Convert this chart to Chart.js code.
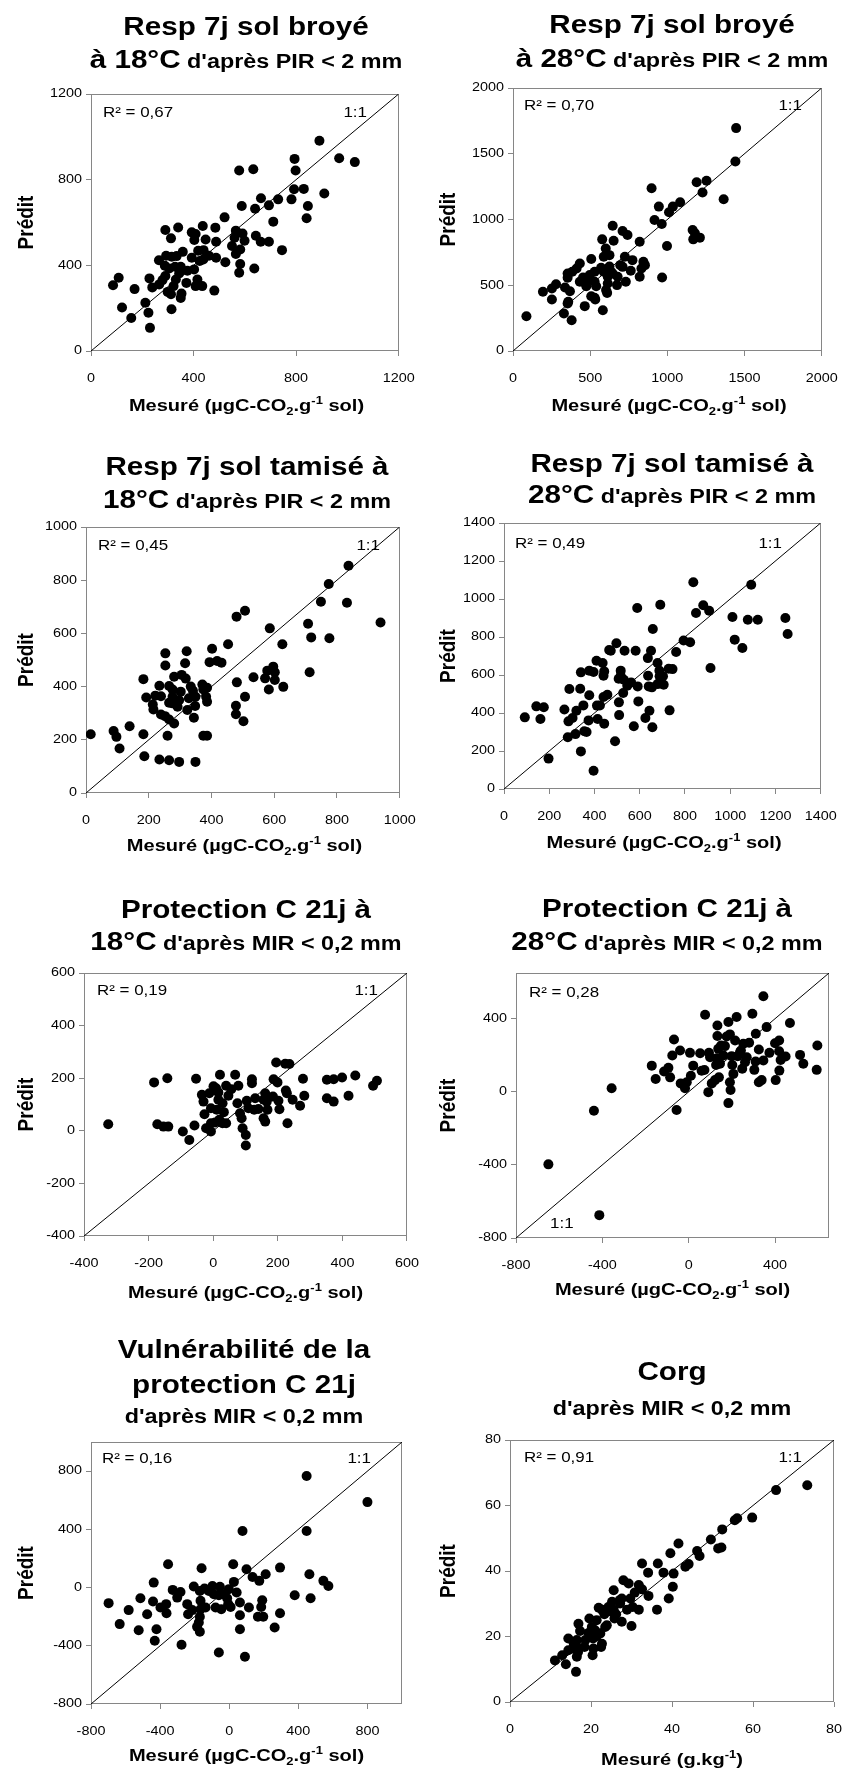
<!DOCTYPE html>
<html><head><meta charset="utf-8">
<script src="https://cdn.jsdelivr.net/npm/chart.js@4.4.1/dist/chart.umd.min.js"></script>
<style>
html,body{margin:0;padding:0;background:#fff;overflow:hidden;width:844px;height:1769px;}
#wrap{position:relative;width:844px;height:1769px;}
#wrap canvas{position:absolute;}
#txt{position:absolute;left:0;top:0;pointer-events:none;}
#txt text{font-family:"Liberation Sans",Arial,sans-serif;fill:#000;}
</style></head><body><div id="wrap"></div>
<script>
// ---------------- DATA ----------------
const p1Measured  = [891,794,968,1029,798,578,633,792,830,910,782,730,846,841,663,694,588,640,711,521,436,485,290,340,393,408,312,447,403,488,565,591,599,560,550,643,662,694,745,582,565,582,578,637,524,488,460,439,418,393,358,334,315,293,265,288,305,328,350,376,402,424,438,415,434,408,372,344,331,322,290,279,266,299,312,353,350,228,239,212,224,230,157,121,170,108,86,314,481];
const p1Predicted = [982,897,900,882,843,843,849,755,757,735,708,708,677,620,713,680,677,664,604,624,584,576,565,577,554,546,526,521,518,510,562,549,515,529,490,538,510,510,471,474,453,406,365,385,414,435,445,471,468,435,463,443,440,445,424,398,385,393,393,375,381,420,427,334,303,303,318,362,334,303,350,331,311,276,265,268,248,339,297,225,179,108,154,203,289,342,307,195,282];

const p2Measured  = [1446,1441,1254,1190,1228,1365,898,945,1083,1036,1011,917,964,646,710,742,578,652,821,998,1164,1179,1211,1168,966,601,625,588,507,725,774,695,710,763,845,855,832,821,731,678,625,635,588,614,571,529,497,454,433,412,384,354,354,433,486,529,539,475,603,614,646,674,610,529,507,369,337,279,252,194,252,358,354,465,533,330,582,380,87];
const p2Predicted = [1695,1441,1294,1283,1205,1154,1238,1098,1131,1098,1055,996,966,953,912,882,849,839,831,798,920,895,862,849,559,780,729,717,699,717,691,653,640,610,679,653,628,564,526,564,643,602,602,564,633,602,577,559,666,628,602,590,557,526,551,526,493,493,463,513,590,501,442,404,417,455,483,508,475,450,391,374,361,341,391,285,310,234,264];

const p3Measured  = [837,774,749,832,939,708,718,776,713,626,586,507,480,453,402,394,418,432,321,316,318,305,281,253,253,183,234,265,276,302,334,341,371,374,349,328,297,276,292,265,239,221,192,213,215,239,252,265,281,323,348,383,386,344,260,374,386,481,534,507,478,478,502,571,578,597,602,602,583,629,183,139,88,97,107,15,186,234,265,297,349,276,386];
const p3Predicted = [854,786,719,715,641,636,585,582,454,559,619,685,663,559,542,492,496,490,533,488,430,444,437,525,479,428,403,402,389,381,400,384,408,389,362,356,349,337,324,339,364,366,359,333,314,295,289,276,261,312,327,362,343,283,215,215,215,416,435,362,328,296,270,431,460,475,454,425,389,399,221,251,233,211,167,221,138,126,123,117,117,362,396];

const p4Measured  = [837,1093,691,589,881,849,907,1010,1244,1078,1122,1254,1020,1054,658,794,823,761,728,703,913,650,582,533,497,472,465,409,436,377,396,443,440,340,516,516,530,545,562,527,507,636,637,640,654,679,679,687,688,706,745,591,594,508,457,440,377,337,289,285,303,267,320,351,411,424,414,443,374,355,365,316,282,340,197,491,396,574,509,625,643,656,732,161,143,176,92];
const p4Predicted = [1088,1075,970,953,967,926,938,905,900,891,891,816,786,742,842,782,772,721,633,593,637,728,728,728,767,728,732,675,663,623,616,619,596,614,623,596,575,544,561,505,580,689,596,540,535,552,663,623,593,549,631,540,461,456,496,484,493,528,526,356,374,418,412,440,439,440,368,344,361,304,300,289,272,198,160,251,96,330,389,374,412,325,414,368,435,430,377];

const p5Measured  = [-325,-183,-142,-173,-154,-139,-94,-74,-58,-53,-35,-30,-27,-22,-7,-7,-7,-12,9,16,21,16,11,19,29,40,33,29,47,40,56,78,68,75,83,88,91,101,101,104,109,120,120,130,140,156,161,166,168,156,161,187,195,199,185,202,205,225,223,236,230,246,269,278,282,352,352,373,373,399,419,440,495,507,228,1,6,127];
const p5Predicted = [25,184,200,25,16,16,-3,-35,20,198,137,111,63,10,-3,29,86,143,162,146,213,118,80,42,29,29,71,105,133,171,158,171,213,105,67,48,10,-16,-56,114,86,196,181,124,83,118,143,111,80,48,35,196,260,184,130,114,82,153,255,254,29,118,95,198,133,194,124,196,111,203,133,210,171,190,143,169,32,80];

const p6Measured  = [-650,-414,-439,-357,-171,-153,-114,-94,-86,-68,-76,-40,-37,-17,-9,-56,6,10,21,53,60,73,76,91,94,99,107,122,127,130,133,133,137,140,145,150,161,168,176,184,184,191,191,194,199,202,207,215,222,227,238,242,248,253,261,269,280,295,304,310,311,325,325,338,346,346,361,374,400,403,419,419,420,426,449,469,516,531,596,593];
const p6Predicted = [-397,-675,-104,19,143,70,111,131,79,286,199,226,46,19,52,-100,213,88,143,211,115,119,422,-2,213,189,46,64,147,184,305,363,235,79,153,253,199,250,303,382,-62,314,52,10,195,147,98,281,409,195,217,226,126,263,162,189,268,427,120,166,318,231,52,64,523,171,354,213,266,64,222,281,116,174,193,376,202,153,253,120];

const p7Measured  = [448,800,77,448,-354,-160,23,100,211,294,135,174,27,43,-2,-54,-97,-143,-205,-170,-118,-89,-60,-35,-12,-6,-46,-79,-137,-166,-166,-170,-176,-186,-170,-238,-243,-282,-301,-327,-365,-363,-398,-437,-441,-475,-514,-582,-634,-698,-524,-421,-431,-276,-60,91,62,62,114,166,185,191,197,263,294,379,464,471,545,574,62,8,-214];
const p7Predicted = [766,587,389,389,160,133,160,126,91,137,73,46,39,-34,-11,5,11,-7,7,-23,-23,-46,-53,-46,-73,-114,-149,-137,-137,-91,-149,-201,-240,-270,-304,-183,-114,-30,-69,-16,-114,-176,-137,34,-96,-183,-73,-155,-251,-107,-293,-286,-366,-393,-446,-475,-286,-190,-137,-201,-133,-87,-201,-274,-176,-53,91,-73,46,11,-103,-133,-155];

const p8Measured  = [73.4,65.7,59.8,56.1,55.5,52.4,49.6,51.4,52.2,46.2,46.8,41.6,39.6,44.1,43.3,36.5,32.6,34.1,37.9,40.4,40.2,39.2,36.3,34.2,32.6,31.8,30.8,29.3,28.0,27.6,29.7,30.3,31.8,28.9,27.2,25.6,25.2,24.3,23.3,22.7,21.9,25.6,25.8,27.6,26.2,23.9,23.5,21.4,19.6,20.2,21.0,19.4,21.4,22.3,22.7,22.5,20.5,20.6,20.4,18.6,18.4,16.9,17.3,16.5,16.3,16.8,16.5,16.3,14.4,14.4,15.5,12.9,11.1,13.8,15.7,30.0,27.1,25.2];
const p8Predicted = [66.2,64.7,56.3,56.1,55.5,52.7,49.6,46.9,47.2,46.1,44.6,48.4,45.4,42.1,41.3,42.3,42.3,39.5,39.5,39.2,35.2,31.6,28.2,32.4,34.4,35.7,33.4,36.2,37.2,31.6,31.6,29.0,28.2,28.2,30.1,34.1,30.6,29.0,26.8,28.2,28.8,28.2,25.5,24.5,26.8,23.4,22.9,25.0,25.5,22.9,21.9,21.1,20.1,20.9,17.8,16.8,19.4,16.3,14.3,18.9,16.8,23.9,21.7,18.9,17.3,15.3,13.8,9.2,19.4,15.8,16.3,14.3,12.7,11.5,18.1,23.2,31.1,27.5];

// axis ranges and tick labels
const p1Range = [0, 1200];   const p1Ticks = [0, 400, 800, 1200];
const p2Range = [0, 2000];   const p2Ticks = [0, 500, 1000, 1500, 2000];
const p3Range = [0, 1000];   const p3Ticks = [0, 200, 400, 600, 800, 1000];
const p4Range = [0, 1400];   const p4Ticks = [0, 200, 400, 600, 800, 1000, 1200, 1400];
const p5Range = [-400, 600]; const p5Ticks = [-400, -200, 0, 200, 400, 600];
const p6Range = [-800, 650]; const p6Ticks = [-800, -400, 0, 400];
const p7Range = [-800, 1000];const p7Ticks = [-800, -400, 0, 400, 800];
const p8Range = [0, 80];     const p8Ticks = [0, 20, 40, 60, 80];

const r2Labels = ['R² = 0,67','R² = 0,70','R² = 0,45','R² = 0,49','R² = 0,19','R² = 0,28','R² = 0,16','R² = 0,91'];

// titles: each line = list of [text, 'big'|'small']
const panelTitles = [
  [[['Resp 7j sol broyé','big']], [['à 18°C','big'],[' d\'après PIR < 2 mm','small']]],
  [[['Resp 7j sol broyé','big']], [['à 28°C','big'],[' d\'après PIR < 2 mm','small']]],
  [[['Resp 7j sol tamisé à','big']], [['18°C','big'],[' d\'après PIR < 2 mm','small']]],
  [[['Resp 7j sol tamisé à','big']], [['28°C','big'],[' d\'après PIR < 2 mm','small']]],
  [[['Protection C 21j à','big']], [['18°C','big'],[' d\'après MIR < 0,2 mm','small']]],
  [[['Protection C 21j à','big']], [['28°C','big'],[' d\'après MIR < 0,2 mm','small']]],
  [[['Vulnérabilité de la','big']], [['protection C 21j','big']], [['d\'après MIR < 0,2 mm','small']]],
  [[['Corg','big']], [['d\'après MIR < 0,2 mm','small']]]
];
const yAxisTitle = 'Prédit';
const xAxisTitleMain = 'Mesuré (µgC-CO';
const xAxisTitleCorg = 'Mesuré (g.kg';
const oneToOne = '1:1';

// ---------------- LAYOUT (positions only) ----------------
const layout = [
  {rect:[91,94,402,351],   col:0, tx:246, tb:[35,68],        r2:[12,23], oo:{mode:'tr', d:35}, xb:411},
  {rect:[513,88,825,351],  col:1, tx:672, tb:[33,67],        r2:[11,22], oo:{mode:'tr', d:23}, xb:411},
  {rect:[86,527,403,793],  col:0, tx:247, tb:[475,508],      r2:[12,23], oo:{mode:'tr', d:23}, xb:851},
  {rect:[504,523,824,789], col:1, tx:672, tb:[472,503],      r2:[11,25], oo:{mode:'tr', d:42}, xb:848},
  {rect:[84,973,407,1236], col:0, tx:246, tb:[918,950],      r2:[13,22], oo:{mode:'tr', d:29}, xb:1298},
  {rect:[516,973,829,1238],col:1, tx:667, tb:[917,950],      r2:[13,24], oo:{mode:'bl', d:34}, xb:1295},
  {rect:[91,1442,402,1704],col:0, tx:244, tb:[1358,1393,1423],r2:[11,21], oo:{mode:'tr', d:31}, xb:1761},
  {rect:[510,1440,834,1702],col:1,tx:672, tb:[1380,1415],    r2:[14,22], oo:{mode:'tr', d:32}, xb:1765}
];

const series = [
  [p1Measured,p1Predicted,p1Range,p1Ticks],
  [p2Measured,p2Predicted,p2Range,p2Ticks],
  [p3Measured,p3Predicted,p3Range,p3Ticks],
  [p4Measured,p4Predicted,p4Range,p4Ticks],
  [p5Measured,p5Predicted,p5Range,p5Ticks],
  [p6Measured,p6Predicted,p6Range,p6Ticks],
  [p7Measured,p7Predicted,p7Range,p7Ticks],
  [p8Measured,p8Predicted,p8Range,p8Ticks]
];

// ---------------- RENDER ----------------
const FONT = '"Liberation Sans", Arial, sans-serif';
const AXIS = '#868686';
const TICK_SX = 1.2;
const wrap = document.getElementById('wrap');

const framePlugin = {
  id: 'frame',
  beforeDatasetsDraw(chart) {
    const {ctx, chartArea: a} = chart;
    ctx.save();
    ctx.strokeStyle = AXIS; ctx.lineWidth = 1;
    const l = Math.round(a.left) + 0.5, t = Math.round(a.top) + 0.5;
    const r = Math.round(a.right) - 0.5, b = Math.round(a.bottom) - 0.5;
    ctx.strokeRect(l, t, r - l, b - t);
    ctx.restore();
  }
};
// widen tick label glyphs horizontally (the reference text is horizontally stretched)
const stretchPlugin = {
  id: 'stretch',
  beforeDraw(chart) {
    const ctx = chart.ctx;
    if (ctx.__origFill) return;
    const orig = ctx.fillText;
    ctx.__origFill = orig;
    ctx.fillText = function (t, x, y) {
      this.save(); this.translate(x, y); this.scale(TICK_SX, 1);
      orig.call(this, t, 0, 0);
      this.restore();
    };
  }
};

const padL = 80, padT = 12, padR = 25, padB = 45;

series.forEach((s, i) => {
  const [mx, py, range, ticks] = s;
  const [L, T, R, B] = layout[i].rect;
  const W = R - L + padL + padR, H = B - T + padT + padB;
  const c = document.createElement('canvas');
  c.width = W; c.height = H;
  c.style.left = (L - padL) + 'px'; c.style.top = (T - padT) + 'px';
  c.style.width = W + 'px'; c.style.height = H + 'px';
  wrap.appendChild(c);
  const pts = mx.map((x, k) => ({x: x, y: py[k]}));
  const axisOpts = (isX) => ({
    type: 'linear', min: range[0], max: range[1],
    afterBuildTicks: sc => { sc.ticks = ticks.map(v => ({value: v})); },
    afterFit: sc => { if (isX) sc.height = padB; else sc.width = padL; },
    ticks: {font: {family: FONT, size: 12}, color: '#000', padding: isX ? 15 : 4,
            maxRotation: 0, autoSkip: false, callback: v => String(v)},
    grid: {drawOnChartArea: false, drawTicks: true, tickLength: 5, color: AXIS, tickColor: AXIS, lineWidth: 1},
    border: {display: false}
  });
  new Chart(c, {
    type: 'scatter',
    data: {datasets: [
      {data: pts, pointRadius: 5, pointHoverRadius: 5, backgroundColor: '#000', borderColor: '#000', pointBorderWidth: 0, borderWidth: 0},
      {data: [{x: range[0], y: range[0]}, {x: range[1], y: range[1]}], showLine: true, pointRadius: 0,
       borderColor: '#000', borderWidth: 1, fill: false}
    ]},
    options: {
      responsive: false, animation: false, events: [],
      layout: {padding: {left: 0, top: padT, right: padR, bottom: 0}},
      plugins: {legend: {display: false}, tooltip: {enabled: false}},
      scales: {x: axisOpts(true), y: axisOpts(false)}
    },
    plugins: [framePlugin, stretchPlugin]
  });
});

// ---------------- TEXT (SVG overlay) ----------------
const esc = t => t.replace(/&/g,'&amp;').replace(/</g,'&lt;').replace(/>/g,'&gt;');
function txt(x, y, inner, size, sx, anchor, bold) {
  return `<text x="${(x / sx).toFixed(2)}" y="${y}" transform="scale(${sx},1)" font-size="${size}" ${bold ? 'font-weight="bold"' : ''} text-anchor="${anchor}">${inner}</text>`;
}
let svg = '';
layout.forEach((lay, i) => {
  const [L, T, R, B] = lay.rect;
  panelTitles[i].forEach((line, k) => {
    const inner = line.map(([t, kind]) => `<tspan font-size="${kind === 'big' ? 26 : 20.5}">${esc(t)}</tspan>`).join('');
    svg += txt(lay.tx, lay.tb[k], inner, 26, 1.14, 'middle', true);
  });
  svg += txt(L + lay.r2[0], T + lay.r2[1], esc(r2Labels[i]), 15, 1.13, 'start', false);
  if (lay.oo.mode === 'tr') svg += txt(R - lay.oo.d, T + lay.r2[1], oneToOne, 15, 1.13, 'end', false);
  else svg += txt(L + lay.oo.d, B - 10, oneToOne, 15, 1.13, 'start', false);
  const cx = (L + R) / 2;
  let inner;
  if (i === 7) inner = `${esc(xAxisTitleCorg)}<tspan font-size="11" dy="-7">-1</tspan><tspan dy="7">)</tspan>`;
  else inner = `${esc(xAxisTitleMain)}<tspan font-size="11" dy="4">2</tspan><tspan dy="-4">.g</tspan><tspan font-size="11" dy="-7">-1</tspan><tspan dy="7"> sol)</tspan>`;
  svg += txt(cx, lay.xb, inner, 17, 1.18, 'middle', true);
  const bx = lay.col === 0 ? 33 : 455, cy = (T + B) / 2;
  svg += `<text transform="translate(${bx},${cy}) scale(1.15,1) rotate(-90)" font-size="19" font-weight="bold" text-anchor="middle">${esc(yAxisTitle)}</text>`;
});
const svgEl = document.createElementNS('http://www.w3.org/2000/svg', 'svg');
svgEl.setAttribute('id', 'txt'); svgEl.setAttribute('width', '844'); svgEl.setAttribute('height', '1769');
svgEl.innerHTML = svg;
wrap.appendChild(svgEl);
</script>
</body></html>
